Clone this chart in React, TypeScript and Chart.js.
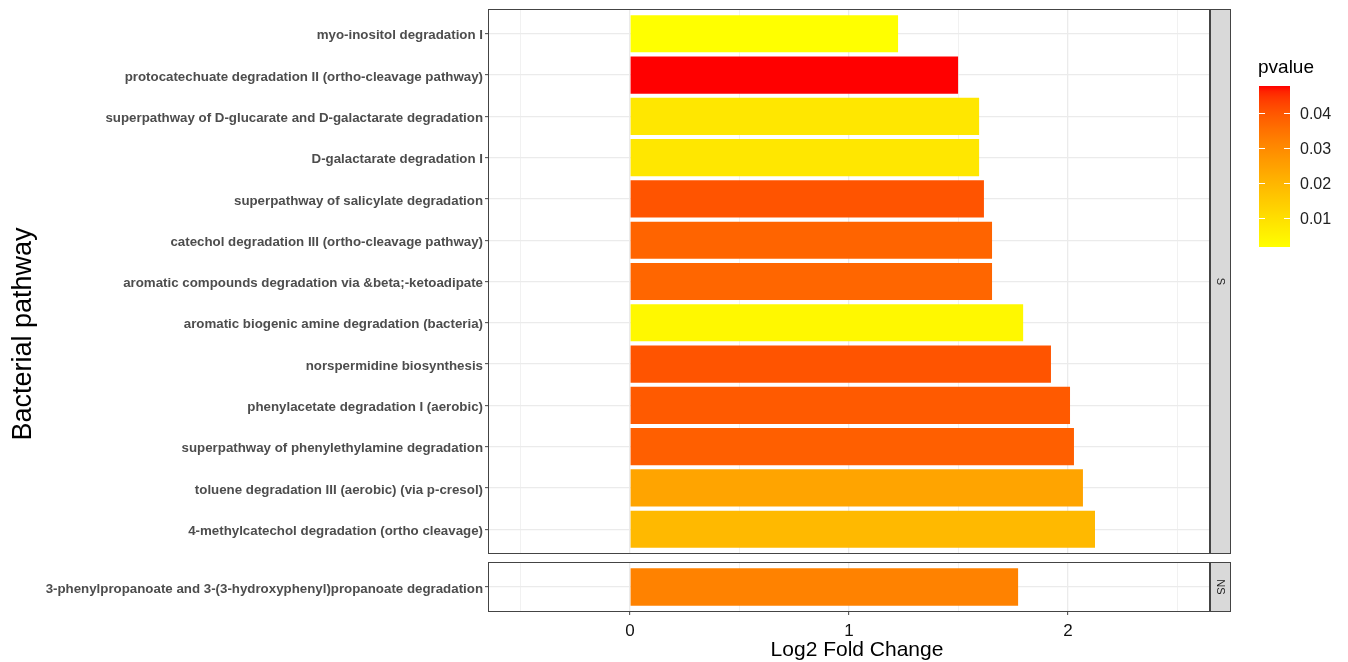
import React, { useEffect, useRef } from "react";
import { Chart, registerables } from "chart.js";
Chart.register(...registerables);

// ---------- data ----------
const sCategories = [
  "myo-inositol degradation I",
  "protocatechuate degradation II (ortho-cleavage pathway)",
  "superpathway of D-glucarate and D-galactarate degradation",
  "D-galactarate degradation I",
  "superpathway of salicylate degradation",
  "catechol degradation III (ortho-cleavage pathway)",
  "aromatic compounds degradation via &beta;-ketoadipate",
  "aromatic biogenic amine degradation (bacteria)",
  "norspermidine biosynthesis",
  "phenylacetate degradation I (aerobic)",
  "superpathway of phenylethylamine degradation",
  "toluene degradation III (aerobic) (via p-cresol)",
  "4-methylcatechol degradation (ortho cleavage)",
];
const sValues = [1.224, 1.498, 1.594, 1.594, 1.616, 1.653, 1.653, 1.795, 1.922, 2.009, 2.027, 2.068, 2.123];
const sPvalues = [0.0017, 0.0477, 0.0077, 0.0078, 0.0403, 0.0376, 0.0372, 0.0035, 0.0403, 0.0394, 0.0385, 0.0242, 0.0192];

const nsCategories = ["3-phenylpropanoate and 3-(3-hydroxyphenyl)propanoate degradation"];
const nsValues = [1.772];
const nsPvalues = [0.0316];

const facetLabels = ["S", "NS"];
const xTicks = [-0.5, 0, 0.5, 1, 1.5, 2, 2.5];
const xMin = -0.648;
const xMax = 2.648;
const legendTicks = [0.01, 0.02, 0.03, 0.04];
const legendTitle = "pvalue";
const xAxisTitle = "Log2 Fold Change";
const yAxisTitle = "Bacterial pathway";

// ---------- colour scale (Lab interpolation yellow -> red) ----------
const LOW = [255, 255, 0];
const HIGH = [255, 0, 0];
const Xn = 0.95047, Zn = 1.08883;
function toLin(c: number) { c /= 255; return c <= 0.04045 ? c / 12.92 : Math.pow((c + 0.055) / 1.055, 2.4); }
function toS(c: number) {
  const v = c <= 0.0031308 ? 12.92 * c : 1.055 * Math.pow(Math.max(c, 0), 1 / 2.4) - 0.055;
  return Math.round(Math.min(1, Math.max(0, v)) * 255);
}
function fLab(t: number) { return t > 0.008856 ? Math.cbrt(t) : 7.787 * t + 16 / 116; }
function fInv(t: number) { return t > 0.206893 ? t * t * t : (t - 16 / 116) / 7.787; }
function rgb2lab(c: number[]) {
  const R = toLin(c[0]), G = toLin(c[1]), B = toLin(c[2]);
  const X = (0.4124 * R + 0.3576 * G + 0.1805 * B) / Xn;
  const Y = 0.2126 * R + 0.7152 * G + 0.0722 * B;
  const Z = (0.0193 * R + 0.1192 * G + 0.9505 * B) / Zn;
  const fx = fLab(X), fy = fLab(Y), fz = fLab(Z);
  return [116 * fy - 16, 500 * (fx - fy), 200 * (fy - fz)];
}
function lab2rgb(l: number[]) {
  const fy = (l[0] + 16) / 116, fx = fy + l[1] / 500, fz = fy - l[2] / 200;
  const X = Xn * fInv(fx), Y = fInv(fy), Z = Zn * fInv(fz);
  const R = 3.2406 * X - 1.5372 * Y - 0.4986 * Z;
  const G = -0.9689 * X + 1.8758 * Y + 0.0415 * Z;
  const B = 0.0557 * X - 0.204 * Y + 1.057 * Z;
  return [toS(R), toS(G), toS(B)];
}
const LAB_LOW = rgb2lab(LOW);
const LAB_HIGH = rgb2lab(HIGH);
const allP = [...sPvalues, ...nsPvalues];
const pMin = Math.min(...allP);
const pMax = Math.max(...allP);
function colorAt(t: number) {
  const lab = LAB_LOW.map((v, i) => v + (LAB_HIGH[i] - v) * t);
  const c = lab2rgb(lab);
  return `rgb(${c[0]},${c[1]},${c[2]})`;
}
function colorFor(p: number) { return colorAt((p - pMin) / (pMax - pMin)); }

// ---------- layout constants ----------
const FONT = "'Liberation Sans', Arial, Helvetica, sans-serif";
const W = 1348;
const TOP_H = 558;
const BOT_H = 104;
const Y_AXIS_W = 488;
const RIGHT_PAD = 138;
const STRIP_W = 21;
const BORDER = "#444444";
const GRID = "#EBEBEB";

function panelPlugin(facet: string, extra?: (chart: any) => void) {
  return {
    id: "panel" + facet,
    afterDraw(chart: any) {
      const { ctx, chartArea: a } = chart;
      ctx.save();
      ctx.fillStyle = "#D9D9D9";
      ctx.fillRect(a.right, a.top, STRIP_W, a.bottom - a.top);
      ctx.strokeStyle = BORDER;
      ctx.lineWidth = 1;
      ctx.strokeRect(a.right + 0.5, a.top + 0.5, STRIP_W - 1, a.bottom - a.top - 1);
      ctx.strokeRect(a.left + 0.5, a.top + 0.5, a.right - a.left - 1, a.bottom - a.top - 1);
      ctx.translate(a.right + STRIP_W / 2, (a.top + a.bottom) / 2);
      ctx.rotate(Math.PI / 2);
      ctx.fillStyle = "#1A1A1A";
      ctx.font = `11px ${FONT}`;
      ctx.textAlign = "center";
      ctx.textBaseline = "middle";
      ctx.fillText(facet, 0, 0);
      ctx.restore();
      if (extra) {
        ctx.save();
        extra(chart);
        ctx.restore();
      }
    },
  };
}

function drawTopExtras(chart: any) {
  const ctx = chart.ctx;
  ctx.save();
  ctx.translate(24, 334);
  ctx.rotate(-Math.PI / 2);
  ctx.fillStyle = "#000";
  ctx.font = `27px ${FONT}`;
  ctx.textAlign = "center";
  ctx.textBaseline = "middle";
  ctx.fillText(yAxisTitle, 0, 0);
  ctx.restore();
  // legend
  const lx = 1259, lw = 31, ly0 = 86, ly1 = 247;
  ctx.fillStyle = "#000";
  ctx.font = `19px ${FONT}`;
  ctx.textAlign = "left";
  ctx.textBaseline = "middle";
  ctx.fillText(legendTitle, 1258, 68);
  const grad = ctx.createLinearGradient(0, ly1, 0, ly0);
  for (let i = 0; i <= 30; i++) grad.addColorStop(i / 30, colorAt(i / 30));
  ctx.fillStyle = grad;
  ctx.fillRect(lx, ly0, lw, ly1 - ly0);
  ctx.strokeStyle = "#FFFFFF";
  ctx.lineWidth = 1;
  ctx.font = `16px ${FONT}`;
  ctx.fillStyle = "#222";
  legendTicks.forEach((p) => {
    const y = Math.round(ly1 - ((p - pMin) / (pMax - pMin)) * (ly1 - ly0)) + 0.5;
    ctx.beginPath();
    ctx.moveTo(lx, y); ctx.lineTo(lx + 6, y);
    ctx.moveTo(lx + lw - 6, y); ctx.lineTo(lx + lw, y);
    ctx.stroke();
    ctx.fillText(p.toFixed(2), 1300, y + 1);
  });
}

function drawBottomExtras(chart: any) {
  const ctx = chart.ctx;
  ctx.fillStyle = "#000";
  ctx.font = `21px ${FONT}`;
  ctx.textAlign = "center";
  ctx.textBaseline = "middle";
  ctx.fillText(xAxisTitle, 857, 92);
}

function makeConfig(cats: string[], vals: number[], pvals: number[], facet: string, isBottom: boolean) {
  const n = cats.length;
  return {
    type: "bar" as const,
    data: {
      datasets: [
        {
          data: vals.map((v, i) => ({ x: v, y: i })),
          backgroundColor: pvals.map(colorFor),
          borderWidth: 0,
          barPercentage: isBottom ? 0.75 : 0.9,
          categoryPercentage: 1,
        },
      ],
    },
    options: {
      indexAxis: "y" as const,
      animation: false as const,
      responsive: false,
      devicePixelRatio: 1,
      layout: { padding: { left: 0, right: RIGHT_PAD, top: isBottom ? 4 : 9, bottom: isBottom ? 0 : 4 } },
      plugins: { legend: { display: false }, tooltip: { enabled: false }, title: { display: false } },
      scales: {
        x: {
          type: "linear" as const,
          min: xMin,
          max: xMax,
          offset: false,
          afterBuildTicks: (s: any) => { s.ticks = xTicks.map((v) => ({ value: v })); },
          afterFit: (s: any) => {
            s.height = isBottom ? 50 : 0;
            s.paddingLeft = 0; s.paddingRight = 0; s.paddingTop = 0; s.paddingBottom = 0;
          },
          border: { display: false },
          grid: {
            offset: false,
            color: GRID,
            lineWidth: (c: any) => (c.tick && Number.isInteger(c.tick.value) ? 1.3 : 0.7),
            drawTicks: isBottom,
            tickLength: 3,
            tickColor: (c: any) => (c.tick && Number.isInteger(c.tick.value) ? BORDER : "rgba(0,0,0,0)"),
            tickWidth: 1,
          },
          ticks: {
            display: isBottom,
            autoSkip: false,
            maxRotation: 0,
            padding: 6,
            color: "#111",
            font: { family: FONT, size: 17 },
            callback: (v: any) => (Number.isInteger(v) ? String(v) : ""),
          },
        },
        y: {
          type: "linear" as const,
          min: -0.6,
          max: n - 1 + 0.6,
          reverse: true,
          offset: false,
          afterBuildTicks: (s: any) => { s.ticks = cats.map((_, i) => ({ value: i })); },
          afterFit: (s: any) => {
            s.width = Y_AXIS_W;
            s.paddingLeft = 0; s.paddingRight = 0; s.paddingTop = 0; s.paddingBottom = 0;
          },
          border: { display: false },
          grid: { offset: false, color: GRID, lineWidth: 1.3, drawTicks: true, tickLength: 3, tickColor: BORDER, tickWidth: 1 },
          ticks: {
            autoSkip: false,
            padding: 2,
            labelOffset: 2,
            color: "#4D4D4D",
            font: { family: FONT, size: 13.3, weight: "bold" as const },
            callback: (v: any) => cats[v] ?? "",
          },
        },
      },
    },
    plugins: [panelPlugin(facet, isBottom ? drawBottomExtras : drawTopExtras)],
  };
}

export default function App() {
  const topRef = useRef<HTMLCanvasElement>(null);
  const botRef = useRef<HTMLCanvasElement>(null);
  useEffect(() => {
    const c1 = new Chart(topRef.current as HTMLCanvasElement, makeConfig(sCategories, sValues, sPvalues, facetLabels[0], false) as any);
    const c2 = new Chart(botRef.current as HTMLCanvasElement, makeConfig(nsCategories, nsValues, nsPvalues, facetLabels[1], true) as any);
    return () => { c1.destroy(); c2.destroy(); };
  }, []);
  return (
    <div style={{ position: "fixed", left: 0, top: 0, width: W, height: 662, background: "#fff" }}>
      <canvas ref={topRef} width={W} height={TOP_H} style={{ position: "absolute", left: 0, top: 0, width: W, height: TOP_H }} />
      <canvas ref={botRef} width={W} height={BOT_H} style={{ position: "absolute", left: 0, top: TOP_H, width: W, height: BOT_H }} />
    </div>
  );
}
